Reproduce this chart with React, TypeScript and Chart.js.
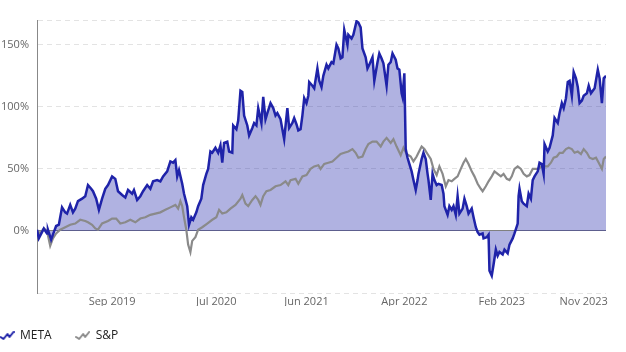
import React, { useEffect, useRef } from 'react';
import { Chart, registerables } from 'chart.js';

Chart.register(...registerables);

// Trading-day index (0 = early Jan 2019) and % change since start
const metaDay = [0,4,11,15,22,24,31,35,42,48,55,62,66,73,79,84,90,99,106,112,119,123,130,136,143,150,156,165,172,178,187,194,200,209,213,220,227,233,242,249,255,264,271,277,286,293,299,304,308,312,319,323,330,334,339,343,350,354,361,365,372,376,381,385,392,398,403,407,411,418,422,429,431,438,442,447,451,455,462,466,473,477,482,486,493,497,502,506,513,519,524,528,535,539,543,550,554,561,565,570,574,579,583,587,592,596,598,605,609,616,620,625,629,636,640,647,651,658,662,667,671,675,682,684,691,695,702,706,711,715,722,726,730,737,741,748,752,757,761,768,772,777,781,788,792,796,801,803,807,810,814,818,823,827,832,836,838,845,849,854,858,860,865,869,873,878,882,889,893,895,902,906,911,915,920,924,928,935,939,944,948,955,959,964,968,972,979,981,988,992,994,999,1003,1008,1012,1016,1023,1027,1034,1038,1045,1049,1056,1058,1060,1065,1069,1076,1080,1085,1089,1093,1100,1104,1109,1113,1115,1122,1126,1133,1137,1144,1148,1153,1157,1162,1166,1170,1175,1179,1184,1188,1192,1197,1201,1208,1212,1217,1221,1225,1232,1236,1241,1245,1250];
const metaPct = [1,-6,-1,2,-2,1,-7,-3,4,5,19,15,14,21,15,18,24,26,28,37,34,32,26,17,26,34,37,44,42,32,29,27,33,30,33,25,28,32,37,34,40,41,40,44,48,56,55,57,44,49,38,30,20,5,11,9,15,20,26,37,46,50,64,63,67,63,69,55,71,72,64,63,85,82,89,113,112,93,85,77,83,87,85,99,87,108,90,95,103,99,93,95,90,82,74,99,83,87,91,86,81,82,93,107,103,109,120,117,115,131,121,116,125,134,131,136,135,150,147,139,140,162,150,158,155,158,169,168,164,147,140,131,134,140,121,136,143,139,135,117,134,136,143,138,131,130,111,108,127,66,59,54,48,41,33,41,46,58,63,58,46,41,25,46,41,37,38,37,30,20,13,20,17,20,13,28,14,18,26,20,14,18,11,3,-1,-3,-2,-6,-5,-3,-32,-36,-27,-15,-20,-17,-19,-15,-18,-11,-6,-2,6,28,34,24,22,20,30,26,41,44,48,55,54,46,70,64,67,77,91,87,95,103,99,107,120,121,109,128,123,116,103,105,109,111,117,111,113,115,130,123,103,123,125];

const spDay = [0,7,15,22,29,35,42,51,62,73,84,95,106,112,121,128,134,143,156,165,174,183,194,205,216,227,238,249,260,271,282,293,304,310,315,319,323,328,332,337,341,348,354,363,374,385,394,400,407,416,425,436,447,451,458,464,473,480,486,491,497,504,513,524,535,546,552,557,568,574,583,592,601,609,618,623,631,640,649,658,667,675,684,693,700,706,715,722,728,737,746,755,761,768,777,783,790,799,805,812,821,827,834,838,845,851,858,865,871,878,884,891,898,904,911,917,924,931,937,942,948,955,961,968,975,979,986,992,999,1005,1012,1019,1025,1032,1038,1043,1049,1056,1063,1069,1076,1082,1089,1096,1102,1109,1115,1122,1129,1135,1142,1148,1155,1162,1168,1175,1181,1188,1195,1201,1208,1214,1221,1228,1234,1241,1245,1250];
const spPct = [0,-2,2,0,-12,-6,-2,1,3,5,6,9,8,7,5,2,1,6,8,10,10,6,7,9,7,10,11,13,14,15,17,19,21,18,24,20,11,1,-11,-17,-8,-5,1,3,6,9,11,17,14,15,18,21,26,29,22,20,25,28,25,21,28,32,33,36,37,40,37,41,42,38,44,45,50,52,53,50,54,55,56,59,62,63,64,66,63,59,60,66,70,72,72,68,72,75,71,74,68,61,67,62,60,56,60,63,68,66,62,58,50,45,52,46,36,41,40,42,44,50,55,58,54,48,44,38,34,32,36,40,44,48,46,44,46,42,41,44,50,52,50,46,44,45,50,50,50,52,52,52,55,59,60,63,63,66,67,66,63,64,62,66,63,59,58,59,55,50,58,60];

const tickDay = [165, 394, 592, 807, 1021, 1201];
const tickLabel = ['Sep 2019', 'Jul 2020', 'Jun 2021', 'Apr 2022', 'Feb 2023', 'Nov 2023'];
const yTicks = [-50, 0, 50, 100, 150, 170];
const yLabelled = [0, 50, 100, 150];

function makeIcon(color: string) {
  const c = document.createElement('canvas');
  c.width = 15;
  c.height = 10;
  const ctx = c.getContext('2d')!;
  ctx.strokeStyle = color;
  ctx.lineWidth = 2;
  ctx.lineJoin = 'round';
  ctx.lineCap = 'round';
  ctx.beginPath();
  ctx.moveTo(1, 6);
  ctx.lineTo(4, 8);
  ctx.lineTo(8, 3);
  ctx.lineTo(10, 6);
  ctx.lineTo(14, 1);
  ctx.stroke();
  return c;
}

export default function App() {
  const ref = useRef<HTMLCanvasElement>(null);
  useEffect(() => {
    if (!ref.current) return;
    Chart.defaults.font.family = "'Open Sans', 'Noto Sans', sans-serif";
    const metaIcon = makeIcon('#1f23a9');
    const spIcon = makeIcon('#8c8c8c');
    const chart = new Chart(ref.current, {
      type: 'line',
      data: {
        datasets: [
          {
            label: 'META',
            data: metaDay.map((d, i) => ({ x: d, y: metaPct[i] })),
            borderColor: '#1f23a9',
            backgroundColor: 'rgba(29,35,168,0.35)',
            fill: 'origin',
            borderWidth: 2.5,
            pointRadius: 0,
            pointStyle: metaIcon as any,
            tension: 0,
          },
          {
            label: 'S&P',
            data: spDay.map((d, i) => ({ x: d, y: spPct[i] })),
            borderColor: '#8a8a8a',
            backgroundColor: '#8a8a8a',
            fill: false,
            borderWidth: 2.2,
            pointRadius: 0,
            pointStyle: spIcon as any,
            tension: 0,
          },
        ],
      },
      options: {
        animation: false,
        responsive: false,
        layout: { padding: { left: 0, right: 20, top: 20, bottom: 0 } },
        plugins: {
          filler: { drawTime: 'beforeDatasetsDraw' } as any,
          tooltip: { enabled: false },
          legend: {
            position: 'bottom',
            align: 'start',
            labels: {
              usePointStyle: true,
              pointStyleWidth: 14,
              padding: 24,
              color: '#222',
              font: { size: 12 },
            },
          },
        },
        scales: {
          x: {
            type: 'linear',
            min: 0,
            max: 1250,
            grid: { display: false, drawTicks: false },
            border: { display: false },
            afterBuildTicks: (s: any) => {
              s.ticks = tickDay.map((v) => ({ value: v }));
            },
            afterFit: (s: any) => {
              s.height = 13;
            },
            ticks: {
              autoSkip: false,
              maxRotation: 0,
              padding: 2,
              color: '#666',
              font: { size: 11 },
              callback: (v: any) => {
                const i = tickDay.indexOf(v);
                return i >= 0 ? tickLabel[i] : '';
              },
            },
          },
          y: {
            type: 'linear',
            min: -50,
            max: 170,
            afterBuildTicks: (s: any) => {
              s.ticks = yTicks.map((v) => ({ value: v }));
            },
            afterFit: (s: any) => {
              s.width = 61;
            },
            grid: {
              drawTicks: false,
              color: (c: any) => (c.tick && c.tick.value === 0 ? '#808080' : '#e3e3e3'),
            },
            border: {
              display: true,
              color: '#888',
              dash: (c: any) => (c.tick && c.tick.value !== 0 ? [5, 4] : []),
            } as any,
            ticks: {
              padding: 8,
              color: '#666',
              font: { size: 11 },
              callback: (v: any) => (yLabelled.indexOf(v) >= 0 ? v + '%' : ''),
            },
          },
        },
      },
    } as any);
    return () => chart.destroy();
  }, []);
  return (
    <div style={{ position: 'absolute', left: -24, top: 0, width: 650, height: 352 }}>
      <canvas ref={ref} width={650} height={352} style={{ display: 'block' }} />
    </div>
  );
}
